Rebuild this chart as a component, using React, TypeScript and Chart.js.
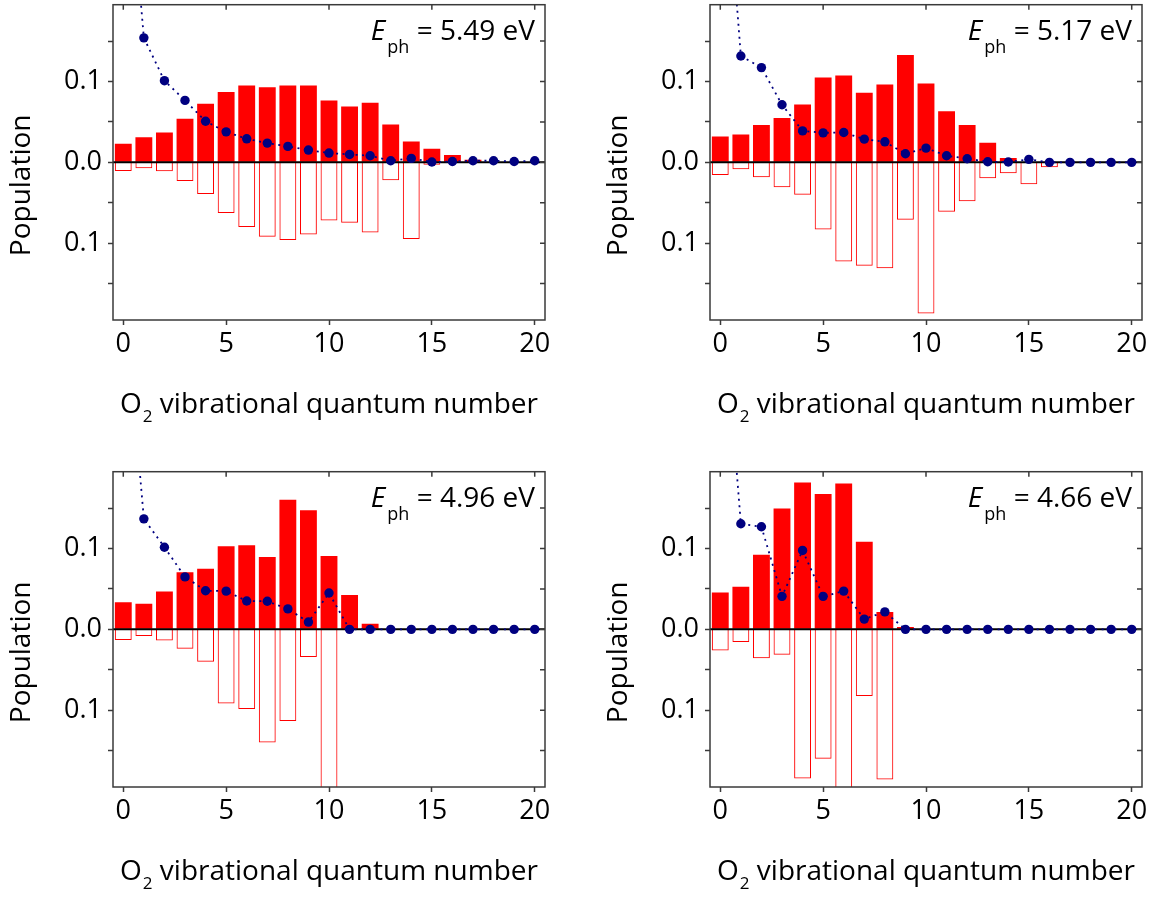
import React, { useEffect, useRef } from "react";
import { Chart, registerables } from "chart.js";

Chart.register(...registerables);

// ---- data ----
const V = [0, 1, 2, 3, 4, 5, 6, 7, 8, 9, 10, 11, 12, 13, 14, 15, 16, 17, 18, 19, 20];
const X_TICKS = [0, 5, 10, 15, 20];
const Y_TICKS = [-0.15, -0.1, -0.05, 0, 0.05, 0.1, 0.15];
const Y_TICK_LABELS = ["", "0.1", "", "0.0", "", "0.1", ""];
const ENERGIES = ["5.49", "5.17", "4.96", "4.66"];

const FILLED_549 = [0.023, 0.031, 0.037, 0.054, 0.0725, 0.087, 0.095, 0.093, 0.095, 0.095, 0.0765, 0.069, 0.0738, 0.0467, 0.0258, 0.0168, 0.009, 0.0033, 0, 0, 0];
const OUTLINE_549 = [-0.0107, -0.0074, -0.011, -0.023, -0.039, -0.0627, -0.08, -0.092, -0.096, -0.0893, -0.072, -0.0746, -0.0869, -0.022, -0.0947, -0.003, 0, 0, 0, 0, 0];
const DOTS_549 = [0.45, 0.154, 0.101, 0.0766, 0.0508, 0.0377, 0.0291, 0.0238, 0.0197, 0.0152, 0.0115, 0.0098, 0.0082, 0.002, 0.0049, 0.0004, 0.001, 0.002, 0.002, 0.001, 0.002];

const FILLED_517 = [0.032, 0.0344, 0.0463, 0.0549, 0.0717, 0.1049, 0.1074, 0.0861, 0.0963, 0.1328, 0.0975, 0.0631, 0.0463, 0.0242, 0.0053, 0, 0, 0, 0, 0, 0];
const OUTLINE_517 = [-0.0156, -0.0086, -0.0184, -0.0307, -0.0402, -0.0832, -0.1225, -0.1279, -0.1311, -0.0709, -0.1869, -0.0611, -0.048, -0.0197, -0.0135, -0.027, -0.0061, 0, 0, 0, 0];
const DOTS_517 = [0.46, 0.1316, 0.1172, 0.0713, 0.0389, 0.0365, 0.0369, 0.0287, 0.0254, 0.0107, 0.0176, 0.0082, 0.0045, 0.0008, 0.0004, 0.0037, 0, 0, 0, 0, 0];

const FILLED_496 = [0.0335, 0.0318, 0.0469, 0.0706, 0.0751, 0.1029, 0.1041, 0.0894, 0.1604, 0.1473, 0.0906, 0.0424, 0.0069, 0, 0, 0, 0, 0, 0, 0, 0];
const OUTLINE_496 = [-0.0131, -0.0082, -0.0139, -0.0241, -0.04, -0.0918, -0.0984, -0.14, -0.1135, -0.0343, -0.25, 0, 0, 0, 0, 0, 0, 0, 0, 0, 0];
const DOTS_496 = [0.43, 0.1367, 0.1016, 0.0649, 0.0478, 0.0473, 0.0351, 0.0347, 0.0253, 0.009, 0.0449, 0, 0, 0, 0, 0, 0, 0, 0, 0, 0];

const FILLED_466 = [0.0457, 0.0527, 0.0922, 0.1494, 0.1816, 0.1673, 0.1804, 0.1082, 0.0216, 0.0029, 0, 0, 0, 0, 0, 0, 0, 0, 0, 0, 0];
const OUTLINE_466 = [-0.0261, -0.0155, -0.0359, -0.0314, -0.1845, -0.16, -0.25, -0.0824, -0.1857, 0, 0, 0, 0, 0, 0, 0, 0, 0, 0, 0, 0];
const DOTS_466 = [0.45, 0.1306, 0.1269, 0.0408, 0.0976, 0.0408, 0.0473, 0.0127, 0.0216, 0, 0, 0, 0, 0, 0, 0, 0, 0, 0, 0, 0];

const RED = "#ff0000";
const NAVY = "#000080";
const FRAME = "#3a3a3a";
const FONT = '"Open Sans", "Noto Sans", sans-serif';

const decorPlugin = {
  id: "panelDecor",
  beforeDatasetDraw(chart: any, args: any) {
    if (args.meta.type !== "line") return;
    const { ctx, chartArea: a } = chart;
    const y0 = chart.scales.y.getPixelForValue(0);
    ctx.save();
    ctx.strokeStyle = "#000";
    ctx.lineWidth = 2;
    ctx.beginPath();
    ctx.moveTo(a.left, y0);
    ctx.lineTo(a.right, y0);
    ctx.stroke();
    ctx.restore();
  },
  afterDraw(chart: any, _args: any, opts: any) {
    const { ctx, chartArea: a } = chart;
    const xs = chart.scales.x;
    const ys = chart.scales.y;
    ctx.save();
    // frame
    ctx.strokeStyle = FRAME;
    ctx.lineWidth = 1.5;
    ctx.strokeRect(a.left, a.top, a.right - a.left, a.bottom - a.top);
    // inner ticks top / right
    ctx.beginPath();
    X_TICKS.forEach((v) => {
      const px = xs.getPixelForValue(v);
      ctx.moveTo(px, a.top);
      ctx.lineTo(px, a.top + 5);
    });
    Y_TICKS.forEach((v) => {
      const py = ys.getPixelForValue(v);
      ctx.moveTo(a.right, py);
      ctx.lineTo(a.right - 5, py);
    });
    ctx.stroke();

    ctx.fillStyle = "#000";
    ctx.textBaseline = "alphabetic";
    // y title
    ctx.save();
    ctx.translate(22, (a.top + a.bottom) / 2 + 23);
    ctx.rotate(-Math.PI / 2);
    ctx.textAlign = "center";
    ctx.textBaseline = "middle";
    ctx.font = `28px ${FONT}`;
    ctx.fillText("Population", 0, 0);
    ctx.restore();

    // x title with subscript
    ctx.textAlign = "left";
    const big = `28px ${FONT}`;
    const small = `17px ${FONT}`;
    ctx.font = big;
    const wO = ctx.measureText("O").width;
    const wRest = ctx.measureText(" vibrational quantum number").width;
    ctx.font = small;
    const w2 = ctx.measureText("2").width;
    const total = wO + w2 + 1 + wRest;
    let x = (a.left + a.right) / 2 - total / 2;
    const base = a.bottom + 93;
    ctx.font = big;
    ctx.fillText("O", x, base);
    x += wO + 1;
    ctx.font = small;
    ctx.fillText("2", x, base + 9);
    x += w2;
    ctx.font = big;
    ctx.fillText(" vibrational quantum number", x, base);

    // energy annotation
    const eFont = `italic 28px ${FONT}`;
    const subFont = `18px ${FONT}`;
    const restFont = `28px ${FONT}`;
    const rest = ` = ${opts.energy} eV`;
    ctx.font = eFont;
    const wE = ctx.measureText("E").width;
    ctx.font = subFont;
    const wPh = ctx.measureText("ph").width;
    ctx.font = restFont;
    const wR = ctx.measureText(rest).width;
    let ex = a.right - 10 - (wE + 2 + wPh + wR);
    const eb = a.top + 35;
    ctx.font = eFont;
    ctx.fillText("E", ex, eb);
    ex += wE + 2;
    ctx.font = subFont;
    ctx.fillText("ph", ex, eb + 13);
    ex += wPh;
    ctx.font = restFont;
    ctx.fillText(rest, ex, eb);
    ctx.restore();
  },
};

type PanelProps = {
  energy: string;
  filled: number[];
  outline: number[];
  dots: number[];
  left: number;
  top: number;
};

const CW = 556;
const CH = 430;

function Panel({ energy, filled, outline, dots, left, top }: PanelProps) {
  const ref = useRef<HTMLCanvasElement | null>(null);
  useEffect(() => {
    if (!ref.current) return;
    const tickFont = { family: FONT, size: 27 };
    const chart = new Chart(ref.current, {
      type: "bar",
      data: {
        datasets: [
          {
            type: "line",
            data: dots.map((y, i) => ({ x: V[i], y })),
            borderColor: NAVY,
            borderWidth: 1.8,
            borderDash: [2, 4.5],
            pointRadius: 4.7,
            pointBackgroundColor: NAVY,
            pointBorderWidth: 0,
            fill: false,
            tension: 0,
            clip: 0,
            order: 0,
          } as any,
          {
            type: "bar",
            data: filled.map((y, i) => ({ x: V[i], y })),
            backgroundColor: RED,
            borderWidth: 0,
            grouped: false,
            barPercentage: 0.82,
            categoryPercentage: 1,
            clip: 0,
            order: 1,
          } as any,
          {
            type: "bar",
            data: outline.map((y, i) => ({ x: V[i], y })),
            backgroundColor: "rgba(255,255,255,0)",
            borderColor: RED,
            borderWidth: 1,
            grouped: false,
            barPercentage: 0.82,
            categoryPercentage: 1,
            clip: 0,
            order: 2,
          } as any,
        ],
      },
      options: {
        animation: false,
        responsive: false,
        devicePixelRatio: 1,
        layout: { padding: { left: 0, top: 2, right: 11, bottom: 0 } },
        plugins: {
          legend: { display: false },
          tooltip: { enabled: false },
          panelDecor: { energy },
        } as any,
        scales: {
          x: {
            type: "linear",
            min: -0.5,
            max: 20.5,
            offset: false,
            afterBuildTicks: (s: any) => {
              s.ticks = X_TICKS.map((value) => ({ value }));
            },
            afterFit: (s: any) => {
              s.height = CH - 320;
              s.paddingLeft = 0;
              s.paddingRight = 0;
            },
            ticks: {
              font: tickFont,
              color: "#000",
              padding: 3,
              autoSkip: false,
              maxRotation: 0,
              callback: (v: any) => String(v),
            },
            grid: {
              offset: false,
              drawOnChartArea: false,
              drawTicks: true,
              tickLength: 5,
              tickColor: FRAME,
              tickWidth: 1.5,
            },
            border: { display: false },
          },
          y: {
            type: "linear",
            min: -0.195,
            max: 0.195,
            afterBuildTicks: (s: any) => {
              s.ticks = Y_TICKS.map((value) => ({ value }));
            },
            afterFit: (s: any) => {
              s.width = 113;
              s.paddingTop = 0;
              s.paddingBottom = 0;
            },
            ticks: {
              font: tickFont,
              color: "#000",
              padding: 6,
              autoSkip: false,
              callback: (_v: any, i: number) => Y_TICK_LABELS[i],
            },
            grid: {
              drawOnChartArea: false,
              drawTicks: true,
              tickLength: 5,
              tickColor: FRAME,
              tickWidth: 1.5,
            },
            border: { display: false },
          },
        } as any,
      },
      plugins: [decorPlugin as any],
    });
    return () => chart.destroy();
  }, [energy, filled, outline, dots]);

  return (
    <div style={{ position: "absolute", left, top, width: CW, height: CH }}>
      <canvas ref={ref} width={CW} height={CH} style={{ width: CW, height: CH, display: "block" }} />
    </div>
  );
}

export default function App() {
  return (
    <div style={{ position: "absolute", left: 0, top: 0, width: 1153, height: 898, background: "#fff", overflow: "hidden" }}>
      <Panel energy={ENERGIES[0]} filled={FILLED_549} outline={OUTLINE_549} dots={DOTS_549} left={0} top={0} />
      <Panel energy={ENERGIES[1]} filled={FILLED_517} outline={OUTLINE_517} dots={DOTS_517} left={597} top={0} />
      <Panel energy={ENERGIES[2]} filled={FILLED_496} outline={OUTLINE_496} dots={DOTS_496} left={0} top={467} />
      <Panel energy={ENERGIES[3]} filled={FILLED_466} outline={OUTLINE_466} dots={DOTS_466} left={597} top={467} />
    </div>
  );
}
